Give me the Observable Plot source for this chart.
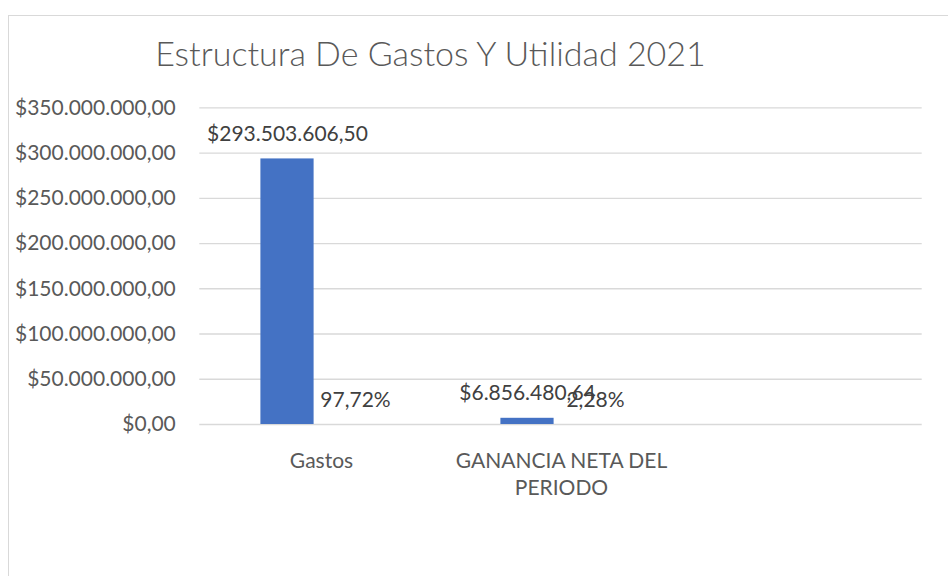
<!DOCTYPE html>
<html>
<head>
<meta charset="utf-8">
<script src="https://cdn.jsdelivr.net/npm/d3@7"></script>
<script src="https://cdn.jsdelivr.net/npm/@observablehq/plot@0.6"></script>
<style>
  html, body { margin: 0; padding: 0; background: #fff; overflow: hidden; }
  #wrap { position: relative; width: 948px; height: 576px; }
  #frame { position: absolute; left: 8px; top: 15px; width: 1000px; height: 1000px;
           border: 1.5px solid #d9d9d9; box-sizing: border-box; pointer-events: none; z-index: 2; }
  #title { position: absolute; left: 0; width: 861px; top: 32px; text-align: center;
           font-family: Lato, sans-serif; font-weight: 300; font-size: 34px; color: #595959;
           white-space: nowrap; z-index: 3; }
</style>
</head>
<body>
<div id="wrap">
  <div id="frame"></div>
  <div id="title">Estructura De Gastos Y Utilidad 2021</div>
  <div id="chart"></div>
</div>
<script>
// Data
const categorias = ["Gastos", "GANANCIA NETA DEL PERIODO", " "];
const etiquetasX = ["Gastos", "GANANCIA NETA DEL\nPERIODO", ""];
const valores = [293503606.50, 6856480.64];
const porcentajes = [0.9772, 0.0228];
const ticksY = [0, 50000000, 100000000, 150000000, 200000000, 250000000, 300000000, 350000000];

const loc = d3.formatLocale({decimal: ",", thousands: ".", grouping: [3], currency: ["$", ""]});
const fmtMoney = loc.format("$,.2f");
const fmtPct = loc.format(".2%");

const datos = valores.map((v, i) => ({cat: categorias[i], valor: v, pct: porcentajes[i]}));

const bandW = (948 - 199.3 - 26.3) / 3;
const barW = 54, gap = 14;
const off = (barW + gap) / 2;
const c1 = bandW / 2 - off, c2 = bandW / 2 + off;
const inL1 = c1 - barW / 2, inR1 = bandW - (c1 + barW / 2);
const inL2 = c2 - barW / 2, inR2 = bandW - (c2 + barW / 2);

const chart = Plot.plot({
  width: 948,
  height: 576,
  marginLeft: 199.3,
  marginRight: 26.3,
  marginTop: 107.3,
  marginBottom: 152,
  style: {fontFamily: "Lato, sans-serif", fontSize: "21px", color: "#595959", background: "transparent", maxWidth: "none"},
  x: {domain: categorias, padding: 0, axis: null, label: null},
  y: {domain: [0, 350000000], axis: null, label: null},
  marks: [
    Plot.gridY(ticksY, {stroke: "#d9d9d9", strokeOpacity: 1, strokeWidth: 1.3}),
    Plot.axisY(ticksY, {tickSize: 0, tickPadding: 24, tickFormat: fmtMoney, fontSize: 21, fill: "#595959", label: null}),
    Plot.axisX({tickSize: 0, tickPadding: 24, fontSize: 21, fill: "#595959", lineHeight: 1.3, label: null,
      tickFormat: d => etiquetasX[categorias.indexOf(d)]}),
    Plot.barY(datos, {x: "cat", y: "valor", fill: "#4472C4", insetLeft: inL1, insetRight: inR1}),
    Plot.barY(datos, {x: "cat", y: "pct", fill: "#ED7D31", insetLeft: inL2, insetRight: inR2}),
    Plot.text(datos, {x: "cat", y: "valor", text: d => fmtMoney(d.valor), dx: -off, dy: -18,
      lineAnchor: "bottom", fontSize: 21, fill: "#404040"}),
    Plot.text(datos, {x: "cat", y: "pct", text: d => fmtPct(d.pct), dx: off, dy: -18,
      lineAnchor: "bottom", fontSize: 21, fill: "#404040"})
  ]
});
document.getElementById("chart").appendChild(chart);
</script>
</body>
</html>
